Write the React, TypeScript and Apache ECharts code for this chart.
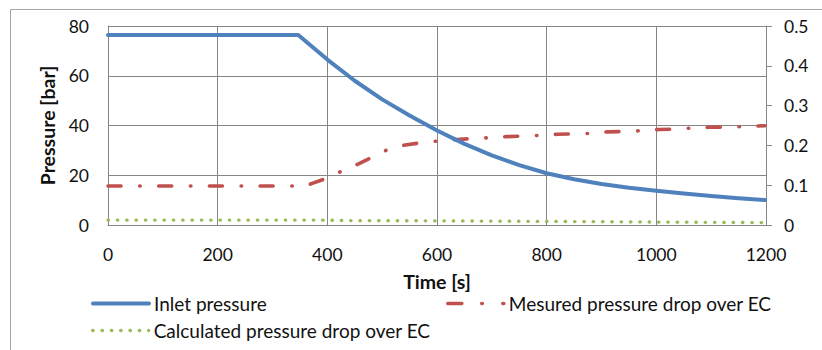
import React, { useEffect, useRef } from "react";
import * as echarts from "echarts";

// Time axis ticks
const xTicks = [0, 200, 400, 600, 800, 1000, 1200];

// Inlet pressure [bar] (left axis)
const inletTime = [0, 347, 400, 450, 500, 550, 600, 650, 700, 750, 800, 850, 900, 950, 1000, 1050, 1100, 1150, 1198];
const inletValue = [76.4, 76.4, 66.5, 58.0, 50.5, 44.0, 38.0, 32.6, 28.0, 24.1, 20.8, 18.4, 16.5, 15.0, 13.8, 12.7, 11.7, 10.8, 10.05];

// Measured pressure drop over EC (right axis)
const measuredTime = [0, 362, 371, 398, 427, 456, 484, 511, 542, 572, 602, 636, 663, 692, 725, 752, 785, 820, 849, 880, 910, 940, 973, 1005, 1033, 1067, 1097, 1128, 1158, 1198];
const measuredValue = [0.098, 0.098, 0.104, 0.117, 0.136, 0.153, 0.172, 0.19, 0.201, 0.207, 0.211, 0.215, 0.217, 0.219, 0.222, 0.223, 0.225, 0.228, 0.229, 0.23, 0.234, 0.235, 0.237, 0.24, 0.241, 0.2437, 0.2455, 0.246, 0.247, 0.2495];

// Calculated pressure drop over EC (right axis)
const calcTime = [0, 380, 450, 600, 800, 1000, 1198];
const calcValue = [0.0125, 0.0125, 0.011, 0.0105, 0.009, 0.0075, 0.006];

const names = ["Inlet pressure", "Mesured pressure drop over EC", "Calculated pressure drop over EC"];
const colors = ["#4F81BD", "#C0504D", "#9BBB59"];

const zip = (t: number[], v: number[]) => t.map((x, i) => [x, v[i]]);

const FONT = "Lato";
const TXT = "#111";
const GRID = "#868686";

const blueStyle = { color: colors[0], width: 4, cap: "round", join: "round" };
const redStyle = { color: colors[1], width: 3.6, type: [13, 18.7, 0.5, 18.5], cap: "round", join: "round" };
const greenStyle = { color: colors[2], width: 3.3, type: [0.5, 8.83], cap: "round" };

const legendBase = {
  padding: 0,
  itemWidth: 56,
  itemHeight: 14,
  itemStyle: { opacity: 0 },
  textStyle: { fontFamily: FONT, fontSize: 19, color: TXT },
};

export default function App() {
  const ref = useRef<HTMLDivElement>(null);
  useEffect(() => {
    if (!ref.current) return;
    const chart = echarts.init(ref.current, undefined, { renderer: "svg" });
    chart.setOption({
      animation: false,
      backgroundColor: "#fff",
      textStyle: { fontFamily: FONT },
      grid: { left: 108, right: 56, top: 26, bottom: 125, containLabel: false },
      graphic: [
        {
          type: "rect",
          shape: { x: 10.5, y: 9.5, width: 900, height: 400 },
          style: { fill: "none", stroke: "#a6a6a6", lineWidth: 1 },
          silent: true,
          z: -10,
        },
      ],
      legend: [
        { ...legendBase, data: [names[0]], left: 91, top: 294, lineStyle: { ...blueStyle } },
        {
          ...legendBase,
          data: [names[1]],
          left: 446,
          top: 294,
          lineStyle: { ...redStyle, type: [14, 20, 0.5, 20.5] },
        },
        { ...legendBase, data: [names[2]], left: 91, top: 321, lineStyle: { ...greenStyle } },
      ],
      xAxis: {
        type: "value",
        min: xTicks[0],
        max: xTicks[xTicks.length - 1],
        interval: 200,
        name: "Time [s]",
        nameLocation: "middle",
        nameGap: 46,
        nameTextStyle: { fontFamily: FONT, fontSize: 19.5, fontWeight: "bold", color: TXT },
        axisLine: { show: true, lineStyle: { color: GRID, width: 1 } },
        axisTick: { show: false },
        axisLabel: { margin: 20, fontFamily: FONT, fontSize: 17.5, color: TXT, formatter: (v: number) => String(v) },
        splitLine: { show: true, lineStyle: { color: GRID, width: 1 } },
      },
      yAxis: [
        {
          type: "value",
          min: 0,
          max: 80,
          interval: 20,
          name: "Pressure [bar]",
          nameLocation: "middle",
          nameRotate: 90,
          nameGap: 38,
          nameTextStyle: { fontFamily: FONT, fontSize: 19.5, fontWeight: "bold", color: TXT },
          axisLine: { show: true, lineStyle: { color: GRID, width: 1 } },
          axisTick: { show: false },
          axisLabel: { margin: 19, fontFamily: FONT, fontSize: 17.5, color: TXT },
          splitLine: { show: true, lineStyle: { color: GRID, width: 1 } },
        },
        {
          type: "value",
          min: 0,
          max: 0.5,
          interval: 0.1,
          position: "right",
          axisLine: { show: true, lineStyle: { color: GRID, width: 1 } },
          axisTick: { show: true, inside: false, length: 6, lineStyle: { color: GRID } },
          axisLabel: { margin: 18, fontFamily: FONT, fontSize: 17.5, color: TXT },
          splitLine: { show: false },
        },
      ],
      series: [
        {
          name: names[0],
          type: "line",
          yAxisIndex: 0,
          symbol: "none",
          data: zip(inletTime, inletValue),
          itemStyle: { color: colors[0] },
          lineStyle: blueStyle,
          z: 3,
        },
        {
          name: names[1],
          type: "line",
          yAxisIndex: 1,
          symbol: "none",
          data: zip(measuredTime, measuredValue),
          itemStyle: { color: colors[1] },
          lineStyle: redStyle,
          z: 2,
        },
        {
          name: names[2],
          type: "line",
          yAxisIndex: 1,
          symbol: "none",
          data: zip(calcTime, calcValue),
          itemStyle: { color: colors[2] },
          lineStyle: greenStyle,
          z: 1,
        },
      ],
    });
    return () => chart.dispose();
  }, []);
  return <div ref={ref} style={{ width: 822, height: 350, position: "absolute", left: 0, top: 0 }} />;
}
